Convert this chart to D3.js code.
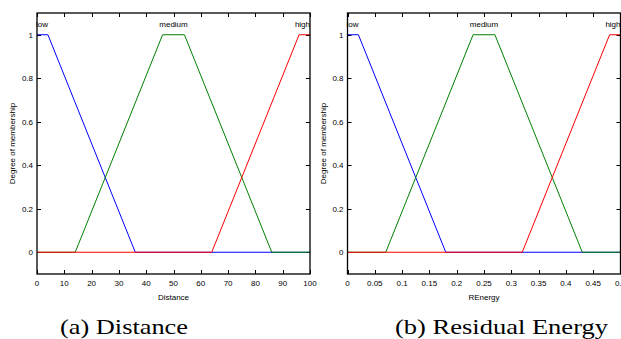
<!DOCTYPE html>
<html>
<head>
<meta charset="utf-8">
<script src="https://cdn.jsdelivr.net/npm/d3@7"></script>
<style>
  body { margin: 0; background: #fff; }
  svg { display: block; }
  text { font-family: "Liberation Sans", Arial, sans-serif; fill: #000; }
  .caption { font-family: "Liberation Serif", "Times New Roman", serif; }
</style>
</head>
<body>
<svg id="chart" width="621" height="339"></svg>
<script>
// membership functions: [x, degree]
const mfNames = ['low', 'medium', 'high'];
const mfColors = ['#0000ff', '#008000', '#ff0000'];
const yTicks = [0, 0.2, 0.4, 0.6, 0.8, 1];

const distTicks = [0, 10, 20, 30, 40, 50, 60, 70, 80, 90, 100];
const distLow = [[0, 1], [4, 1], [36, 0], [100, 0]];
const distMedium = [[0, 0], [14, 0], [46, 1], [54, 1], [86, 0], [100, 0]];
const distHigh = [[0, 0], [64, 0], [96, 1], [100, 1]];

const energyTicks = [0, 0.05, 0.1, 0.15, 0.2, 0.25, 0.3, 0.35, 0.4, 0.45, 0.5];
const energyLow = [[0, 1], [0.02, 1], [0.18, 0], [0.5, 0]];
const energyMedium = [[0, 0], [0.07, 0], [0.23, 1], [0.27, 1], [0.43, 0], [0.5, 0]];
const energyHigh = [[0, 0], [0.32, 0], [0.48, 1], [0.5, 1]];

const svg = d3.select('#chart');
const plotTop = 13, plotBottom = 274, tickLen = 4;

function drawPanel(left, right, xDomain, xTicks, xLabel, series, caption, capX, capW) {
  const x = d3.scaleLinear().domain(xDomain).range([left, right]);
  const y = d3.scaleLinear().domain([-0.1, 1.1]).range([plotBottom, plotTop]);
  const g = svg.append('g');

  // ticks on all four sides, pointing inward
  const ticks = g.append('g').attr('stroke', '#000').attr('stroke-width', 1);
  xTicks.forEach(function (t) {
    const px = Math.round(x(t)) + 0.5;
    ticks.append('line').attr('x1', px).attr('x2', px).attr('y1', plotBottom).attr('y2', plotBottom - tickLen);
    ticks.append('line').attr('x1', px).attr('x2', px).attr('y1', plotTop).attr('y2', plotTop + tickLen);
  });
  yTicks.forEach(function (t) {
    const py = Math.round(y(t)) + 0.5;
    ticks.append('line').attr('x1', left).attr('x2', left + tickLen).attr('y1', py).attr('y2', py);
    ticks.append('line').attr('x1', right).attr('x2', right - tickLen).attr('y1', py).attr('y2', py);
  });

  g.selectAll('.xt').data(xTicks).enter().append('text')
    .attr('x', function (d) { return x(d); })
    .attr('y', plotBottom + 12)
    .attr('text-anchor', 'middle')
    .attr('font-size', 8)
    .text(function (d) { return d; });

  g.selectAll('.yt').data(yTicks).enter().append('text')
    .attr('x', left - 4)
    .attr('y', function (d) { return y(d) + 3; })
    .attr('text-anchor', 'end')
    .attr('font-size', 8)
    .text(function (d) { return d; });

  g.append('text')
    .attr('x', (left + right) / 2)
    .attr('y', plotBottom + 26)
    .attr('text-anchor', 'middle')
    .attr('font-size', 8)
    .text(xLabel);

  g.append('text')
    .attr('transform', 'translate(' + (left - 22) + ',' + ((plotTop + plotBottom) / 2) + ') rotate(-90)')
    .attr('text-anchor', 'middle')
    .attr('font-size', 8)
    .text('Degree of membership');

  const line = d3.line()
    .x(function (d) { return x(d[0]); })
    .y(function (d) { return y(d[1]); });

  series.forEach(function (s, i) {
    g.append('path')
      .attr('d', line(s))
      .attr('fill', 'none')
      .attr('stroke', mfColors[i])
      .attr('stroke-width', 1);
  });

  // labels over each function
  const anchors = ['start', 'middle', 'end'];
  series.forEach(function (s, i) {
    const peak = s.filter(function (p) { return p[1] === 1; });
    const cx = (peak[0][0] + peak[peak.length - 1][0]) / 2;
    const px = i === 0 ? left - 1 : (i === 2 ? right : x(cx));
    g.append('text')
      .attr('x', px)
      .attr('y', y(1.05) + 3)
      .attr('text-anchor', anchors[i])
      .attr('font-size', 8)
      .text(mfNames[i]);
  });

  // frame
  g.append('rect')
    .attr('x', left).attr('y', plotTop)
    .attr('width', right - left).attr('height', plotBottom - plotTop)
    .attr('fill', 'none')
    .attr('stroke', '#000')
    .attr('stroke-width', 1.3);

  svg.append('text')
    .attr('class', 'caption')
    .attr('x', capX)
    .attr('y', 334)
    .attr('font-size', 21)
    .attr('textLength', capW)
    .attr('lengthAdjust', 'spacingAndGlyphs')
    .text(caption);
}

drawPanel(37, 310, [0, 100], distTicks, 'Distance',
  [distLow, distMedium, distHigh], '(a) Distance', 60, 128);
drawPanel(347.5, 620.5, [0, 0.5], energyTicks, 'REnergy',
  [energyLow, energyMedium, energyHigh], '(b) Residual Energy', 395, 213);
</script>
</body>
</html>
